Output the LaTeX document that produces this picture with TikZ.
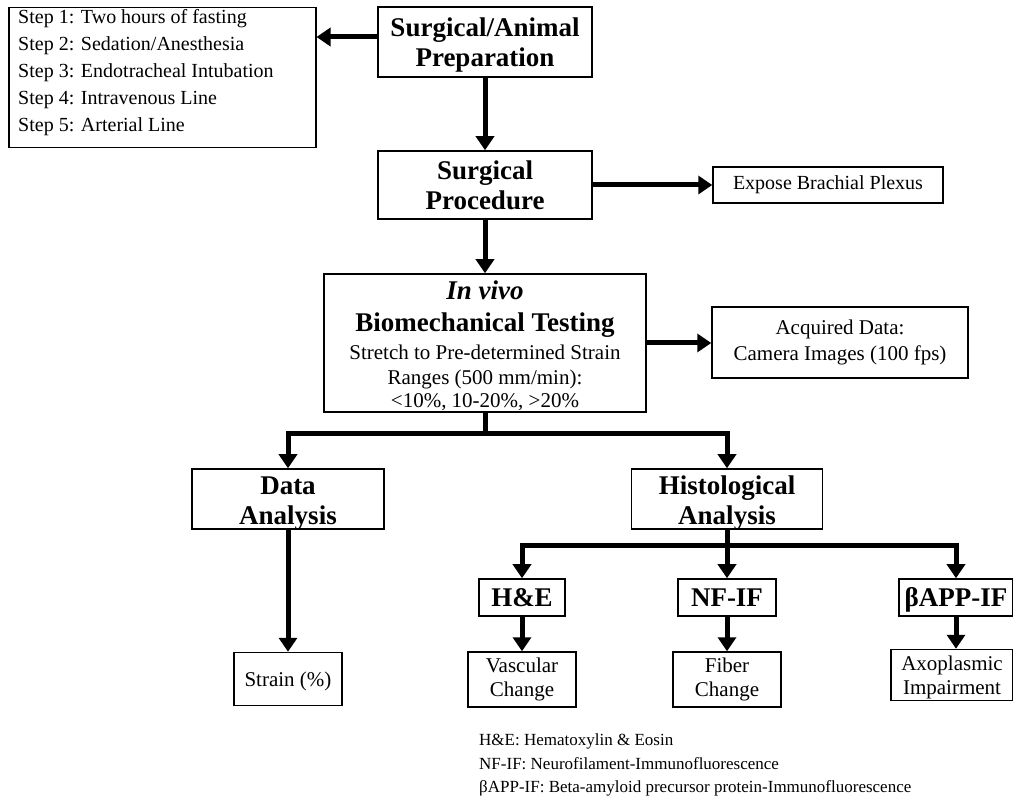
\documentclass[tikz,border=0pt]{standalone}
\usepackage{fontspec}
\setmainfont{Liberation Serif}
\usetikzlibrary{arrows.meta,calc}
\newcommand{\bigbf}{\fontsize{27}{30}\selectfont\bfseries}
\newcommand{\regf}{\fontsize{21}{24}\selectfont}
\tikzset{
  box/.style={draw, line width=1.5pt, rectangle, inner sep=0pt, align=center},
  bigb/.style={font=\bigbf},
  reg/.style={font=\regf},
  conn/.style={line width=5pt, -{Triangle[length=14pt,width=18pt]}},
  dconn/.style={line width=5pt, line join=miter, {Triangle[length=14pt,width=18pt]}-{Triangle[length=14pt,width=18pt]}},
  stem/.style={line width=5pt},
}
\begin{document}
\begin{tikzpicture}[x=1pt,y=-1pt]
\useasboundingbox (0,0) rectangle (1013,799);
% boxes
\node[box, minimum width=307pt, minimum height=140pt, anchor=north west] (steps) at (8,7) {};
\node[anchor=north west, inner sep=0pt, align=left, font=\fontsize{20}{27}\selectfont] (stepstxt) at (18,9)
  {Step 1: Two hours of fasting\\Step 2: Sedation/Anesthesia\\Step 3: Endotracheal Intubation\\Step 4: Intravenous Line\\Step 5: Arterial Line};
\node[box, bigb, minimum width=214pt, minimum height=70pt, text depth=0pt] (prep) at (485,42) {Surgical/Animal\\Preparation};
\node[box, bigb, minimum width=214pt, minimum height=68pt, text depth=0pt] (proc) at (485,185) {Surgical\\Procedure};
\node[box, font=\fontsize{20}{24}\selectfont, minimum width=230pt, minimum height=36pt] (expose) at (828,185) {Expose Brachial Plexus};
\node[box, reg, minimum width=322pt, minimum height=138pt] (invivo) at (485,343)
  {\rule{0pt}{24pt}{\bigbf\itshape In vivo}\\[8pt]
   {\bigbf Biomechanical Testing}\\[4pt]
   Stretch to Pre-determined Strain\\[1pt]
   Ranges (500 mm/min):\\[-1pt]
   <10\%, 10-20\%, >20\%};
\node[box, font=\fontsize{21}{26}\selectfont, minimum width=256pt, minimum height=71pt] (acq) at (840,342.5) {Acquired Data:\\Camera Images (100 fps)};
\node[box, bigb, minimum width=192pt, minimum height=60pt, text depth=0pt] (data) at (288,499) {\rule{0pt}{22pt}Data\\Analysis};
\node[box, bigb, minimum width=191pt, minimum height=60pt, text depth=0pt] (hist) at (727,499) {\rule{0pt}{22pt}Histological\\Analysis};
\node[box, reg, minimum width=108pt, minimum height=53pt] (strain) at (288,679) {\rule{0pt}{19pt}Strain (\%)};
\node[box, bigb, minimum width=86pt, minimum height=37pt] (he) at (522,597.5) {H\&E};
\node[box, bigb, minimum width=98pt, minimum height=37pt] (nf) at (727,597.5) {NF-IF};
\node[box, bigb, minimum width=114pt, minimum height=37pt] (bapp) at (956,597.5) {\rule{0pt}{23pt}βAPP-IF};
\node[box, reg, minimum width=108pt, minimum height=55pt] (vasc) at (522,679.5) {Vascular\\Change};
\node[box, reg, minimum width=108pt, minimum height=55pt] (fiber) at (727,679.5) {Fiber\\Change};
\node[box, reg, minimum width=122pt, minimum height=51pt] (axo) at (952,675) {\rule{0pt}{19pt}Axoplasmic\\Impairment};
\node[anchor=north west, inner sep=0pt, align=left, font=\fontsize{17}{23.5}\selectfont] (legend) at (479,734)
  {H\&E: Hematoxylin \& Eosin\\NF-IF: Neurofilament-Immunofluorescence\\βAPP-IF: Beta-amyloid precursor protein-Immunofluorescence};
% connectors
\draw[conn] ([yshift=5pt]prep.west) -- ([yshift=5pt]prep.west -| steps.east);
\draw[conn] (prep.south) -- (proc.north);
\draw[conn] (proc.east) -- (expose.west);
\draw[conn] (proc.south) -- (invivo.north);
\draw[conn] (invivo.east) -- (invivo.east -| acq.west);
\draw[stem] (invivo.south) -- ++(0,21) coordinate (j1);
\draw[dconn] (data.north) |- (j1) -| (hist.north);
\draw[conn] (data.south) -- (strain.north);
\draw[stem] (hist.south) -- ++(0,16) coordinate (j2);
\draw[dconn] (he.north) |- (j2) -| (bapp.north);
\draw[conn] (j2) -- (nf.north);
\draw[conn] (he.south) -- (vasc.north);
\draw[conn] (nf.south) -- (fiber.north);
\draw[conn] (bapp.south) -- (bapp.south |- axo.north);
\end{tikzpicture}
\end{document}
